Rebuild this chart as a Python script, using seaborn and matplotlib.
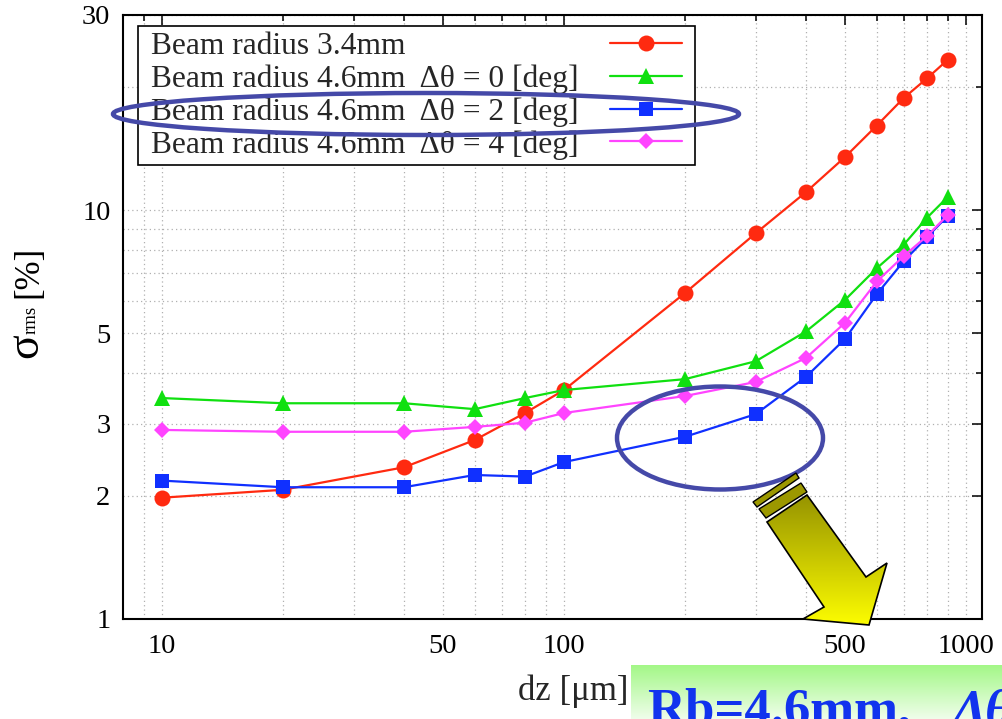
import numpy as np
import pandas as pd
import matplotlib
matplotlib.use("Agg")
import matplotlib.pyplot as plt
import seaborn as sns
from matplotlib.patches import Ellipse, Polygon
from matplotlib.offsetbox import DrawingArea
from matplotlib.ticker import FixedLocator, FixedFormatter, NullFormatter

# ---------------- data ----------------
dz = [10, 20, 40, 60, 80, 100, 200, 300, 400, 500, 600, 700, 800, 900]
r34 = [1.98, 2.07, 2.35, 2.74, 3.19, 3.63, 6.27, 8.78, 11.07, 13.48, 16.1, 18.8, 21.0, 23.3]
r46_d0 = [3.47, 3.37, 3.37, 3.26, 3.47, 3.63, 3.86, 4.27, 5.05, 6.03, 7.21, 8.23, 9.58, 10.76]
r46_d2 = [2.18, 2.10, 2.10, 2.25, 2.23, 2.42, 2.79, 3.17, 3.91, 4.84, 6.23, 7.50, 8.59, 9.67]
r46_d4 = [2.90, 2.87, 2.87, 2.95, 3.02, 3.19, 3.51, 3.80, 4.35, 5.30, 6.69, 7.72, 8.64, 9.72]

labels = ["Beam radius 3.4mm",
          "Beam radius 4.6mm  \u0394\u03b8 = 0 [deg]",
          "Beam radius 4.6mm  \u0394\u03b8 = 2 [deg]",
          "Beam radius 4.6mm  \u0394\u03b8 = 4 [deg]"]
series = [r34, r46_d0, r46_d2, r46_d4]
colors = ["#FF2A10", "#10E010", "#1030FF", "#FF44FF"]
markers = ["o", "^", "s", "D"]
msizes = [11.5, 11.5, 10.5, 8.5]

xmajor = [10, 50, 100, 500, 1000]
xmajor_labels = ["10", "50", "100", "500", "1000"]
xminor = [9, 20, 30, 40, 60, 70, 80, 90, 200, 300, 400, 600, 700, 800, 900]
ymajor = [1, 2, 3, 5, 10, 30]
ymajor_labels = ["1", "2", "3", "5", "10", "30"]
yminor = [4, 6, 7, 8, 9, 20]

# ---------------- style ----------------
sns.set_theme(style="white")
plt.rcParams["font.family"] = ["Liberation Serif", "DejaVu Serif"]

W, H = 1003, 719
fig = plt.figure(figsize=(W / 100, H / 100), dpi=100)
fig.patch.set_facecolor("white")
ax = fig.add_axes([123 / W, 100 / H, 859 / W, 604 / H])
ax.set_facecolor("white")

for vals, lab, c, m, ms in zip(series, labels, colors, markers, msizes):
    df = pd.DataFrame({"dz": dz, "sigma": vals})
    sns.lineplot(data=df, x="dz", y="sigma", ax=ax, color=c, marker=m,
                 markersize=ms, markeredgewidth=0, linewidth=1.6, label=lab)

ax.set_xscale("log")
ax.set_yscale("log")
ax.set_xlim(8.0, 1096)
ax.set_ylim(1, 30)

ax.xaxis.set_major_locator(FixedLocator(xmajor))
ax.xaxis.set_major_formatter(FixedFormatter(xmajor_labels))
ax.xaxis.set_minor_locator(FixedLocator(xminor))
ax.xaxis.set_minor_formatter(NullFormatter())
ax.yaxis.set_major_locator(FixedLocator(ymajor))
ax.yaxis.set_major_formatter(FixedFormatter(ymajor_labels))
ax.yaxis.set_minor_locator(FixedLocator(yminor))
ax.yaxis.set_minor_formatter(NullFormatter())

ax.tick_params(which="both", direction="in", top=True, right=True,
               colors="black", width=1.1, labelsize=20.5)
ax.tick_params(which="major", length=7.5)
ax.tick_params(which="minor", length=4)
ax.tick_params(axis="y", which="major", pad=9)
ax.tick_params(axis="x", which="major", pad=11)

ax.grid(True, which="both", color="#b0b0b0", linestyle=(0, (1, 2.5)), linewidth=0.9)
ax.set_axisbelow(True)
for s in ax.spines.values():
    s.set_visible(True)
    s.set_color("black")
    s.set_linewidth(1.5)

ax.set_ylabel("")
ax.set_xlabel("dz [\u03bcm]", fontsize=25)
ax.xaxis.set_label_coords(0.524, -0.092)

leg_fs = 22.7
bpad = 0.18
leg = ax.legend(loc="upper left", bbox_to_anchor=(0.0175, 0.982), borderaxespad=0,
                markerfirst=False, frameon=True, fancybox=False, edgecolor="black",
                framealpha=1, fontsize=leg_fs, handlelength=2.3, handletextpad=1.0,
                borderpad=bpad, labelspacing=0.11)
leg.get_frame().set_linewidth(1.2)
# gnuplot-style key: texts left-aligned, samples right-aligned, extra side margins
side = 5
hbox = leg._legend_handle_box
col = hbox.get_children()[0]
col.width = 531.6
for row in col.get_children():
    row.mode = "expand"
hbox.sep = 0
hbox._children = [DrawingArea(side, 0), col, DrawingArea(side, 0)]

# ---------------- overlay annotations (pixel coords) ----------------
ov = fig.add_axes([0, 0, 1, 1], zorder=10)
ov.set_xlim(0, W)
ov.set_ylim(H, 0)
ov.axis("off")
ov.patch.set_alpha(0)

# y-axis label composed like the original
ov.text(37, 358, "\u03c3", fontsize=33, rotation=90, rotation_mode="anchor",
        ha="left", va="baseline", color="black")
ov.text(36, 334, "rms", fontsize=13.5, rotation=90, rotation_mode="anchor",
        ha="left", va="baseline", color="black")
ov.text(37, 298, "[%]", fontsize=25, rotation=90, rotation_mode="anchor",
        ha="left", va="baseline", color="black")

ell_c = "#4549A8"
ov.add_patch(Ellipse((426, 114), 626, 42, fill=False, edgecolor=ell_c, lw=3.2))
ov.add_patch(Ellipse((720, 438), 206, 103, fill=False, edgecolor=ell_c, lw=3.2))

# arrow stripes
for pts in ([(753, 502), (757, 507), (799, 478), (796, 473)],
            [(759, 509), (766, 518), (807, 492), (801, 483)]):
    ov.add_patch(Polygon(pts, closed=True, facecolor="#9c9800", edgecolor="black", lw=1.0))

arrow_pts = [(767, 522), (807, 495), (866, 577), (887, 563), (869, 625),
             (803, 619), (824, 607)]
arrow = Polygon(arrow_pts, closed=True, facecolor="none", edgecolor="black", lw=1.2, zorder=12)
ov.add_patch(arrow)
t = np.linspace(0, 1, 256)[:, None]
top = np.array([0.58, 0.57, 0.0])
bot = np.array([1.0, 1.0, 0.0])
grad = (top[None, None, :] * (1 - t[:, :, None]) + bot[None, None, :] * t[:, :, None])
grad = np.repeat(grad, 2, axis=1)
im = ov.imshow(grad, extent=(760, 890, 628, 492), aspect="auto", zorder=11,
               interpolation="bilinear")
im.set_clip_path(arrow)

# green label box
gtop = np.array([0.64, 0.97, 0.53])
gbot = np.array([0.94, 0.995, 0.92])
gg = (gtop[None, None, :] * (1 - t[:, :, None]) + gbot[None, None, :] * t[:, :, None])
gg = np.repeat(gg, 2, axis=1)
ov.imshow(gg, extent=(631, W, H, 665), aspect="auto", zorder=11, interpolation="bilinear")
ov.set_xlim(0, W)
ov.set_ylim(H, 0)

ov.text(647, 725, "Rb=4.6mm,", fontsize=38, fontweight="bold", color="#1133EE",
        ha="left", va="baseline", zorder=13)
ov.text(953, 725, "\u0394\u03b8", fontsize=38, fontweight="bold", fontstyle="italic",
        color="#1133EE", ha="left", va="baseline", zorder=13)

fig.savefig("out.png", dpi=100)
